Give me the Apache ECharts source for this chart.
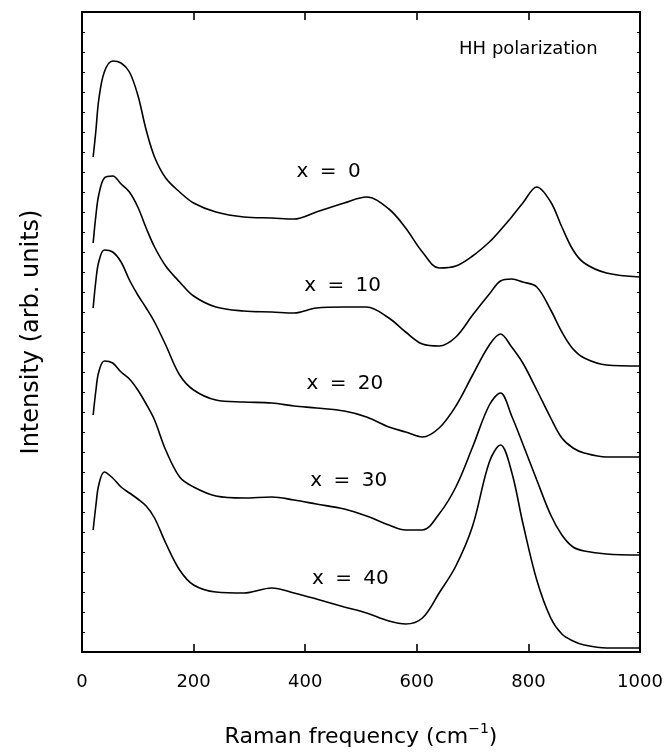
<!DOCTYPE html>
<html>
<head>
<meta charset="utf-8">
<script src="https://cdn.jsdelivr.net/npm/echarts@6/dist/echarts.min.js"></script>
<style>
html,body{margin:0;padding:0;background:#fff;}
#chart{width:668px;height:753px;}
</style>
</head>
<body>
<div id="chart"></div>
<script>
// Raman frequency grid (cm^-1)
const freq = [20, 25, 30, 40, 55, 70, 85, 100, 115, 130, 150, 175, 200, 240, 290, 340, 380, 420, 470, 510, 550, 580, 610, 640, 670, 700, 730, 750, 770, 790, 815, 840, 860, 880, 900, 940, 1000];
// Intensities (arbitrary units, curves offset vertically as in the figure)
const int_x0  = [495, 522, 552, 580, 591, 589, 580, 557, 522, 495, 474, 460, 449, 440, 435, 434, 433, 440, 449, 455, 443, 424, 400, 384, 386, 396, 410, 422, 435, 449, 465, 450, 425, 402, 389, 379, 375];
const int_x10 = [409, 437, 457, 474, 476, 468, 460, 445, 424, 405, 386, 370, 356, 345, 341, 340, 339, 344, 345, 345, 334, 320, 308, 306, 315, 337, 358, 371, 373, 370, 365, 342, 320, 303, 294, 287, 286];
const int_x20 = [344, 372, 390, 402, 400, 390, 372, 357, 344, 330, 307, 277, 262, 252, 250, 249, 246, 244, 241, 235, 225, 220, 215, 224, 246, 277, 307, 318, 305, 289, 262, 234, 214, 204, 199, 195, 195];
const int_x30 = [237, 262, 280, 291, 289, 280, 273, 262, 248, 232, 202, 175, 165, 156, 154, 155, 152, 148, 143, 136, 127, 122, 122, 138, 165, 205, 247, 259, 236, 208, 172, 137, 117, 105, 101, 98, 97];
const int_x40 = [122, 147, 167, 180, 174, 165, 159, 153, 146, 134, 109, 82, 67, 60, 59, 64, 59, 53, 45, 39, 31, 28, 34, 59, 86, 126, 190, 207, 180, 129, 72, 34, 18, 11, 7, 4, 4];

const seriesNames = ['x = 0', 'x = 10', 'x = 20', 'x = 30', 'x = 40'];
const seriesData = [int_x0, int_x10, int_x20, int_x30, int_x40];

// Curve annotation positions (data coordinates)
const curveLabelFreq = [442, 467, 471, 478, 481];
const curveLabelInt  = [480, 366, 268, 171, 73];
const panelNote = 'HH polarization';
const panelNoteFreq = 800;
const panelNoteInt = 603;

const xTicks = [0, 200, 400, 600, 800, 1000];
const yMin = 0, yMax = 640;

const FONT = 'DejaVu Sans';
const chart = echarts.init(document.getElementById('chart'), null, {renderer: 'canvas'});

const lineSeries = seriesData.map((d, i) => ({
  name: seriesNames[i],
  type: 'line',
  data: freq.map((f, j) => [f, d[j]]),
  showSymbol: false,
  smooth: 0.35,
  lineStyle: {color: '#000', width: 1.6},
  animation: false,
  xAxisIndex: 0, yAxisIndex: 0
}));

const curveLabels = {
  type: 'scatter',
  symbolSize: 0,
  silent: true,
  animation: false,
  itemStyle: {opacity: 1, color: '#000'},
  data: seriesNames.map((t, i) => ({value: [curveLabelFreq[i], curveLabelInt[i]], name: t})),
  label: {
    show: true,
    position: 'inside',
    formatter: p => p.name.replace(' = ', ' {eq|=} '),
    color: '#000',
    fontFamily: FONT,
    fontSize: 20,
    rich: {eq: {fontFamily: FONT, fontSize: 20, color: '#000', padding: [0, 5, 0, 5]}}
  },
  xAxisIndex: 0, yAxisIndex: 0
};

const noteSeries = {
  type: 'scatter',
  symbolSize: 0,
  silent: true,
  animation: false,
  itemStyle: {opacity: 1, color: '#000'},
  data: [{value: [panelNoteFreq, panelNoteInt], name: panelNote}],
  label: {
    show: true, position: 'inside', formatter: p => p.name,
    color: '#000', fontFamily: FONT, fontSize: 18
  },
  xAxisIndex: 0, yAxisIndex: 0
};

const axisLineStyle = {show: true, onZero: false, lineStyle: {color: '#000', width: 2}};
const xTickStyle = {show: true, inside: true, length: 8, lineStyle: {color: '#000', width: 1.6}};
const yTickStyle = {show: true, inside: false, length: -3, lineStyle: {color: '#000', width: 1}};

chart.setOption({
  backgroundColor: '#fff',
  animation: false,
  grid: {left: 82, right: 28, top: 12, bottom: 101, containLabel: false},
  xAxis: [
    {
      type: 'value', min: 0, max: 1000, interval: 200,
      position: 'bottom',
      axisLine: axisLineStyle,
      axisTick: xTickStyle,
      splitLine: {show: false},
      axisLabel: {
        color: '#000', fontFamily: FONT, fontSize: 18, margin: 21,
        formatter: v => xTicks.includes(v) ? String(v) : ''
      },
      name: 'Raman frequency (cm{sup|−1})',
      nameLocation: 'middle',
      nameGap: 70,
      nameTextStyle: {
        color: '#000', fontFamily: FONT, fontSize: 22,
        rich: {sup: {fontFamily: FONT, fontSize: 14, color: '#000', padding: [0, 0, 16, 0]}}
      }
    },
    {
      type: 'value', min: 0, max: 1000, interval: 200,
      position: 'top',
      axisLine: axisLineStyle,
      axisTick: xTickStyle,
      splitLine: {show: false},
      axisLabel: {show: false}
    }
  ],
  yAxis: [
    {
      type: 'value', min: yMin, max: yMax, interval: 20,
      position: 'left',
      axisLine: axisLineStyle,
      axisTick: yTickStyle,
      splitLine: {show: false},
      axisLabel: {show: false},
      name: 'Intensity (arb. units)',
      nameLocation: 'middle',
      nameGap: 38,
      nameRotate: 90,
      nameTextStyle: {color: '#000', fontFamily: FONT, fontSize: 24}
    },
    {
      type: 'value', min: yMin, max: yMax, interval: 20,
      position: 'right',
      axisLine: axisLineStyle,
      axisTick: yTickStyle,
      splitLine: {show: false},
      axisLabel: {show: false}
    }
  ],
  series: lineSeries.concat([curveLabels, noteSeries])
});
</script>
</body>
</html>
